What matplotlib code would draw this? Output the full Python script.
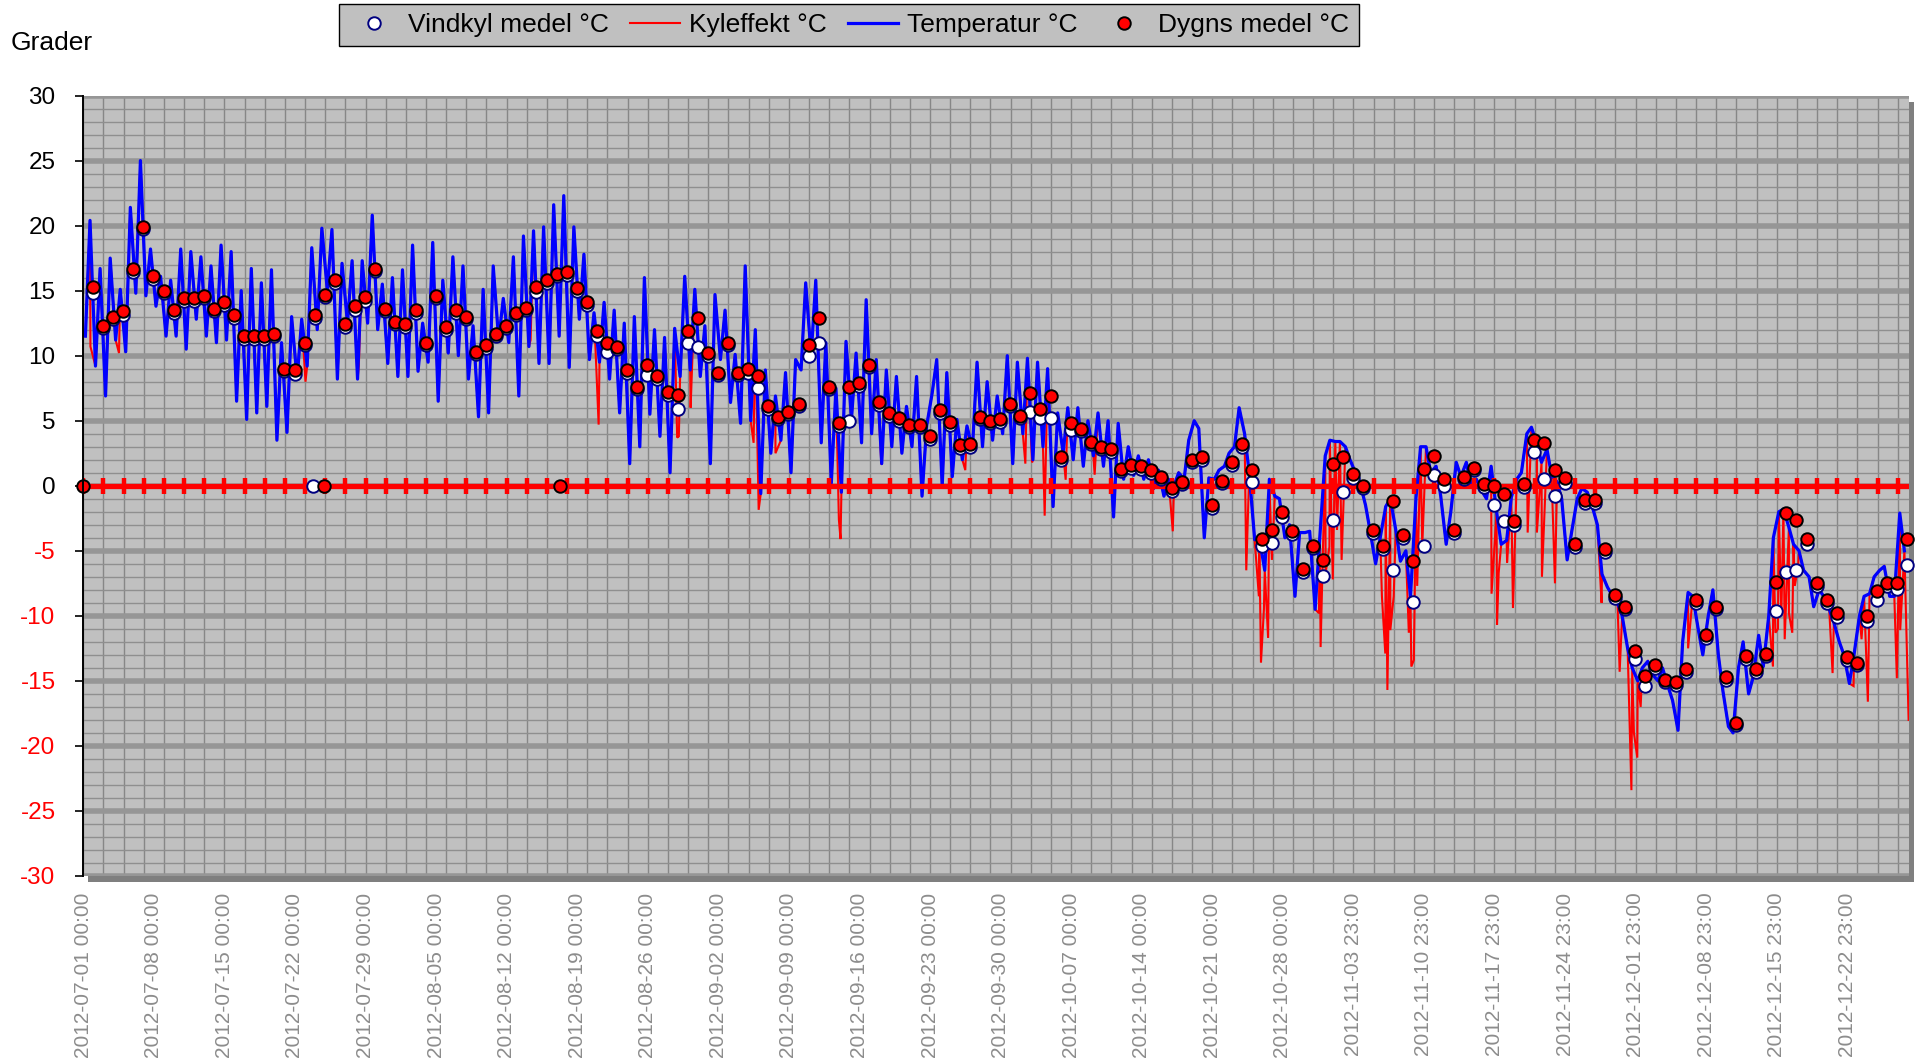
import numpy as np
import matplotlib
matplotlib.use("Agg")
import matplotlib.pyplot as plt
from matplotlib.ticker import MultipleLocator
from matplotlib.lines import Line2D
from matplotlib.patches import Rectangle

plt.rcParams['font.family'] = ['Liberation Sans', 'DejaVu Sans']

# ---------------- data ----------------
# Temperature, two readings per day (about 05:00 and 16:00), by month
temp_jul = [11.5, 20.4, 9.2, 16.7, 6.9, 17.5, 11.2, 15.1, 10.3, 21.4, 14.8, 25.0, 14.6, 18.2,
            13.8, 16.1, 11.5, 15.8, 11.5, 18.2, 10.5, 18.0, 12.8, 17.6, 11.5, 16.9, 11.0, 18.5,
            11.2, 18.0, 6.5, 15.0, 5.1, 16.7, 5.6, 15.6, 6.1, 16.6, 3.5, 11.0, 4.1, 13.0,
            8.2, 12.8, 9.2, 18.3, 12.0, 19.8, 15.0, 19.7, 8.2, 17.1, 12.5, 17.3, 8.2, 17.3,
            12.5, 20.8, 12.0, 15.5, 9.4, 16.0]
temp_aug = [8.4, 16.6, 8.4, 18.5, 8.8, 12.5, 9.5, 18.7, 6.5, 15.8, 10.2, 17.6, 10.0, 16.9,
            8.2, 12.3, 5.3, 15.1, 5.6, 16.9, 11.2, 14.4, 11.0, 17.6, 6.9, 19.2, 10.7, 19.6,
            9.4, 19.9, 9.4, 21.6, 11.5, 22.3, 9.1, 19.9, 12.8, 17.8, 9.7, 13.3, 9.5, 14.1,
            8.2, 13.5, 5.6, 12.5, 1.7, 13.0, 3.0, 16.0, 5.5, 12.0, 3.8, 11.4, 1.0, 12.1,
            8.4, 16.1, 8.9, 15.1, 8.4, 12.3]
temp_sep = [1.7, 14.7, 9.7, 13.5, 6.4, 10.1, 4.8, 16.9, 5.0, 12.0, -0.6, 8.9, 2.5, 6.9,
            3.5, 8.7, 1.0, 9.7, 8.9, 15.6, 10.0, 15.8, 3.3, 11.0, 0.2, 7.5, -0.5, 11.1,
            5.1, 10.2, 3.3, 14.3, 4.0, 9.7, 1.7, 8.9, 3.0, 8.4, 2.5, 6.1, 3.0, 8.4,
            -0.8, 4.6, 7.1, 9.7, -0.05, 8.7, 0.7, 5.1, 2.0, 4.6, 2.8, 9.5, 3.0, 8.0,
            3.5, 6.9, 4.0, 10.0]
temp_oct = [1.7, 9.5, 4.0, 9.8, 2.0, 9.5, 3.0, 9.0, -1.6, 5.6, 2.5, 6.0, 2.0, 6.0,
            1.5, 5.0, 2.3, 5.6, 1.5, 5.0, -2.4, 4.8, 0.5, 3.0, 0.8, 2.3, 0.5, 2.0,
            -0.2, 1.2, -0.8, 0.5, 0.0, 1.0, 0.5, 3.5, 5.0, 4.4, -4.0, 0.6, 0.5, 1.2,
            1.5, 2.5, 3.0, 6.0, 4.0, 1.0, -4.15, -4.0, -6.5, 0.5, -0.8, -1.0, -4.0, -3.0,
            -8.5, -3.6, -3.6, -3.5, -9.5, -4.0]
temp_nov = [2.3, 3.5, 3.4, 3.4, 3.0, 2.0, 1.0, 0.2, -1.5, -3.5, -6.0, -4.0, -1.6, -1.0,
            -3.4, -5.8, -5.0, -8.5, -1.0, 3.0, 3.0, 1.0, 1.5, -0.8, -4.5, -2.0, 1.8, 0.7,
            1.8, 0.0, 0.5, -0.3, -1.0, 1.5, -2.0, -4.5, -4.2, -0.9, 0.5, 1.0, 4.0, 4.5,
            3.2, 1.8, 2.8, 0.8, 0.3, -1.0, -5.7, -3.5, -1.0, -0.2, -0.5, -1.5, -3.0, -6.8,
            -7.8, -8.4, -9.0, -10.0]
temp_dec = [-12.5, -14.0, -15.0, -14.0, -13.5, -14.5, -15.0, -14.0, -15.4, -16.5, -18.8, -12.0,
            -8.2, -8.5, -11.0, -13.0, -10.0, -8.0, -13.0, -15.8, -18.5, -19.0, -14.0, -12.0,
            -16.0, -14.7, -11.5, -13.9, -10.0, -4.0, -2.0, -1.8, -3.2, -4.5, -5.0, -6.5,
            -7.0, -9.3, -8.0, -8.5, -9.5, -10.5, -12.0, -13.0, -15.2, -13.0, -10.0, -8.5,
            -8.3, -7.0, -6.5, -6.2, -8.5, -8.5, -2.1, -5.0]
reading_hours_of_day = [5, 16]

# Kyleffekt: follows the temperature, with these visible downward excursions (hour, value)
kyl_spike_hours = [17, 85, 529, 656, 1065, 1227, 1414, 1418, 1446, 1596, 1608, 1648, 1799, 1803,
                   1900, 2100, 2243, 2259, 2289, 2339, 2408, 2594, 2769, 2799, 2804, 2811, 2821,
                   2830, 2942, 2946, 2958, 2967, 2975, 2985, 2996, 3092, 3100, 3105, 3112, 3120,
                   3156, 3162, 3168, 3176, 3188, 3353, 3358, 3366, 3370, 3390, 3404, 3439, 3461,
                   3473, 3504, 3615, 3658, 3686, 3692, 3700, 3708, 3821, 4023, 4029, 4035, 4043,
                   4051, 4061, 4069, 4075, 4083, 4165, 4215, 4234, 4249, 4318, 4326, 4346]
kyl_spike_values = [10.7, 10.2, 8.0, 9.2, 11.2, 4.7, 3.7, 3.8, 6.0, 3.3, -1.85, 2.5, -2.6, -4.1,
                    1.7, 1.2, 1.7, 1.8, -2.3, 0.46, 0.85, -3.5, -6.5, -8.5, -13.6, -9.5, -11.7,
                    -5.7, -9.8, -12.4, -6.7, -4.7, -7.2, -3.4, -5.7, -8.5, -12.9, -15.7, -11.1, -8.5,
                    -11.3, -13.9, -13.4, -7.7, -4.7, -8.3, -5.7, -10.7, -6.7, -5.9, -9.4, -3.6, -3.6,
                    -7.0, -7.5, -9.0, -14.3, -23.4, -19.0, -20.9, -17.0, -12.5, -13.9, -11.3, -11.0, -10.0,
                    -11.8, -9.8, -11.3, -7.7, -6.2, -14.4, -15.4, -11.8, -16.6, -14.8, -11.1, -18.0]

# Daily means (plotted at 23:00 of each day), 2012-07-01 .. 2012-12-28
dygns_medel = [15.3, 12.3, 13.0, 13.4, 16.7, 19.9, 16.1, 15.0, 13.5, 14.4,
               14.4, 14.6, 13.6, 14.1, 13.1, 11.5, 11.5, 11.5, 11.7, 9.0,
               8.9, 11.0, 13.1, 14.7, 15.8, 12.4, 13.8, 14.5, 16.7, 13.6,
               12.6, 12.4, 13.5, 11.0, 14.6, 12.2, 13.5, 13.0, 10.3, 10.8,
               11.7, 12.3, 13.3, 13.7, 15.3, 15.8, 16.3, 16.4, 15.2, 14.1,
               11.9, 11.0, 10.7, 8.9, 7.6, 9.3, 8.4, 7.2, 7.0, 11.9,
               12.9, 10.2, 8.7, 11.0, 8.7, 9.0, 8.4, 6.1, 5.3, 5.7,
               6.3, 10.8, 12.9, 7.6, 4.8, 7.6, 7.9, 9.3, 6.4, 5.6,
               5.2, 4.7, 4.7, 3.8, 5.8, 4.9, 3.1, 3.2, 5.3, 5.0,
               5.1, 6.3, 5.4, 7.1, 5.9, 6.9, 2.2, 4.8, 4.4, 3.4,
               3.0, 2.8, 1.3, 1.6, 1.5, 1.2, 0.7, -0.2, 0.3, 2.0,
               2.2, -1.5, 0.4, 1.8, 3.2, 1.2, -4.1, -3.4, -2.0, -3.5,
               -6.4, -4.6, -5.7, 1.7, 2.2, 0.9, 0.0, -3.4, -4.6, -1.2,
               -3.8, -5.8, 1.3, 2.3, 0.5, -3.4, 0.7, 1.4, 0.1, 0.0,
               -0.6, -2.7, 0.1, 3.5, 3.3, 1.2, 0.6, -4.5, -1.1, -1.1,
               -4.9, -8.4, -9.3, -12.7, -14.6, -13.8, -14.9, -15.1, -14.1, -8.8,
               -11.5, -9.3, -14.7, -18.2, -13.1, -14.1, -12.9, -7.4, -2.1, -2.6,
               -4.1, -7.5, -8.8, -9.8, -13.2, -13.6, -10.0, -8.1, -7.5, -7.5,
               -4.1]
vindkyl_medel = [14.8, 12.1, 12.8, 13.1, 16.4, 19.7, 15.9, 14.8, 13.3, 14.2,
                 14.2, 14.4, 13.4, 13.9, 12.9, 11.3, 11.3, 11.3, 11.5, 8.8,
                 8.6, 10.8, 12.9, 14.5, 15.6, 12.2, 13.5, 14.2, 16.5, 13.4,
                 12.4, 12.2, 13.3, 10.8, 14.4, 12.0, 13.3, 12.8, 10.1, 10.6,
                 11.5, 12.1, 13.1, 13.5, 14.9, 15.6, 16.1, 16.2, 15.0, 13.9,
                 11.5, 10.3, 10.5, 8.7, 7.4, 8.5, 8.2, 7.0, 5.9, 11.0,
                 10.7, 10.0, 8.5, 10.8, 8.5, 8.7, 7.5, 5.9, 5.1, 5.5,
                 6.1, 10.0, 11.0, 7.4, 4.6, 5.0, 7.7, 9.1, 6.2, 5.4,
                 5.0, 4.5, 4.5, 3.6, 5.6, 4.7, 2.9, 3.0, 5.1, 4.8,
                 4.9, 6.1, 5.2, 5.7, 5.2, 5.2, 2.0, 4.3, 4.2, 3.2,
                 2.8, 2.6, 1.1, 1.4, 1.3, 1.0, 0.5, -0.4, 0.1, 1.8,
                 2.0, -1.7, 0.2, 1.6, 3.0, 0.3, -4.6, -4.4, -2.4, -3.7,
                 -6.6, -4.8, -6.9, -2.6, -0.5, 0.6, -0.2, -3.6, -4.9, -6.5,
                 -4.0, -8.9, -4.6, 0.8, 0.0, -3.6, 0.5, 1.2, -0.1, -1.5,
                 -2.7, -3.0, -0.1, 2.6, 0.5, -0.8, 0.2, -4.7, -1.3, -1.3,
                 -5.1, -8.6, -9.5, -13.3, -15.4, -14.0, -15.1, -15.3, -14.3, -9.0,
                 -11.7, -9.5, -14.9, -18.4, -13.3, -14.3, -13.1, -9.6, -6.6, -6.5,
                 -4.5, -7.7, -9.0, -10.1, -13.4, -13.8, -10.4, -8.8, -7.7, -7.9,
                 -6.1]
mean_hour_of_day = 23
# extra rows where the daily means were recorded as 0
zero_dygns_hours = [0, 574, 1136]
zero_vindkyl_hours = [546]

x_tick_labels = ["2012-07-01 00:00", "2012-07-08 00:00", "2012-07-15 00:00", "2012-07-22 00:00",
                 "2012-07-29 00:00", "2012-08-05 00:00", "2012-08-12 00:00", "2012-08-19 00:00",
                 "2012-08-26 00:00", "2012-09-02 00:00", "2012-09-09 00:00", "2012-09-16 00:00",
                 "2012-09-23 00:00", "2012-09-30 00:00", "2012-10-07 00:00", "2012-10-14 00:00",
                 "2012-10-21 00:00", "2012-10-28 00:00", "2012-11-03 23:00", "2012-11-10 23:00",
                 "2012-11-17 23:00", "2012-11-24 23:00", "2012-12-01 23:00", "2012-12-08 23:00",
                 "2012-12-15 23:00", "2012-12-22 23:00"]
y_tick_values = [-30, -25, -20, -15, -10, -5, 0, 5, 10, 15, 20, 25, 30]
label_interval = 168      # hourly categories between labels
tick_interval = 48        # hourly categories between tick marks / gridlines
n_hours = 4346            # number of hourly categories on the axis

# ---------------- build series ----------------
temp_vals = np.array(temp_jul + temp_aug + temp_sep + temp_oct + temp_nov + temp_dec)
n_days = len(temp_vals) // 2
temp_hours = (np.arange(n_days)[:, None] * 24 + np.array(reading_hours_of_day)[None, :]).ravel()

kh = np.concatenate([temp_hours, kyl_spike_hours])
kv = np.concatenate([temp_vals, kyl_spike_values])
order = np.argsort(kh, kind="stable")
kh, kv = kh[order], kv[order]

day_hours = np.arange(len(dygns_medel)) * 24 + mean_hour_of_day

# ---------------- figure ----------------
W, H = 1921, 1062
fig = plt.figure(figsize=(W / 100, H / 100), dpi=100)
L, R, T, B = 83.3, 1908.6, 95.5, 876.0
ax = fig.add_axes([L / W, 1 - B / H, (R - L) / W, (B - T) / H])
ax.set_facecolor("#C0C0C0")

# drop shadow of the plot area
fig.patches.append(Rectangle(((L + 5) / W, 1 - (B + 6) / H), (R - L) / W, (B - T) / H,
                             transform=fig.transFigure, facecolor="#7f7f7f",
                             edgecolor="none", zorder=-1))

ax.set_xlim(0, n_hours)
ax.set_ylim(-30, 30)

# grid
ax.set_yticks(y_tick_values)
ax.set_yticklabels([str(v) for v in y_tick_values])
ax.yaxis.set_minor_locator(MultipleLocator(1))
ax.xaxis.set_minor_locator(MultipleLocator(tick_interval))
ax.xaxis.remove_overlapping_locs = False
ax.set_xticks(np.arange(len(x_tick_labels)) * label_interval)
ax.set_xticklabels(x_tick_labels, rotation=90)
ax.set_axisbelow(True)
ax.grid(which="minor", axis="y", color="#8f8f8f", lw=1.0)
ax.grid(which="major", axis="y", color="#969696", lw=4.0)
ax.grid(which="minor", axis="x", color="#878787", lw=1.0)
ax.grid(which="major", axis="x", visible=False)

for s in ["top", "right", "bottom"]:
    ax.spines[s].set_visible(False)
ax.spines["left"].set_color("black")
ax.spines["left"].set_linewidth(1.4)
ax.spines["left"].set_zorder(8)

ax.tick_params(axis="y", which="major", length=6, width=1.2, labelsize=17.5, pad=14)
ax.tick_params(axis="y", which="minor", length=0)
ax.tick_params(axis="x", which="both", length=0, labelsize=15, labelcolor="#8c8c8c", pad=12)
for lab, v in zip(ax.get_yticklabels(), y_tick_values):
    lab.set_color("#FF0000" if v < 0 else "black")

# series lines
ax.plot(kh, kv, color="#FF0000", lw=1.5, zorder=3, solid_joinstyle="miter")
ax.plot(temp_hours, temp_vals, color="#0000FF", lw=2.3, zorder=4)

# horizontal axis line crossing at 0, with tick marks
ax.axhline(0, color="#FF0000", lw=3.8, zorder=5)
tick_pos = np.arange(0, n_hours + 1, tick_interval)
ax.plot(tick_pos, np.zeros_like(tick_pos), ls="none", marker="|", ms=12, mew=3.2,
        color="#FF0000", zorder=5)

# daily means
ms, mew = 9, 1.4
ax.plot(np.concatenate([day_hours, zero_vindkyl_hours]),
        np.concatenate([vindkyl_medel, np.zeros(len(zero_vindkyl_hours))]),
        ls="none", marker="o", ms=ms, mfc="white", mec="#000080", mew=mew, zorder=6, clip_on=False)
ax.plot(np.concatenate([day_hours, zero_dygns_hours]),
        np.concatenate([dygns_medel, np.zeros(len(zero_dygns_hours))]),
        ls="none", marker="o", ms=ms, mfc="#FF0000", mec="black", mew=mew, zorder=7, clip_on=False)

# axis title
fig.text(11 / W, 1 - 43 / H, "Grader", fontsize=19, ha="left", va="center")

# legend
handles = [Line2D([], [], ls="none", marker="o", ms=ms, mfc="white", mec="#000080", mew=mew),
           Line2D([], [], color="#FF0000", lw=1.5),
           Line2D([], [], color="#0000FF", lw=2.3),
           Line2D([], [], ls="none", marker="o", ms=ms, mfc="#FF0000", mec="black", mew=mew)]
labels = ["Vindkyl medel °C", "Kyleffekt °C", "Temperatur °C", "Dygns medel °C"]
leg = fig.legend(handles, labels, loc="upper center", bbox_to_anchor=(849 / W, 1 - 4 / H),
                 ncol=4, fontsize=19, frameon=True, fancybox=False, edgecolor="black",
                 facecolor="#C0C0C0", framealpha=1, handlelength=1.9, handletextpad=0.35,
                 columnspacing=0.8, borderpad=0.35, borderaxespad=0)
leg.get_frame().set_linewidth(1.0)

fig.savefig("out.png", dpi=100)
